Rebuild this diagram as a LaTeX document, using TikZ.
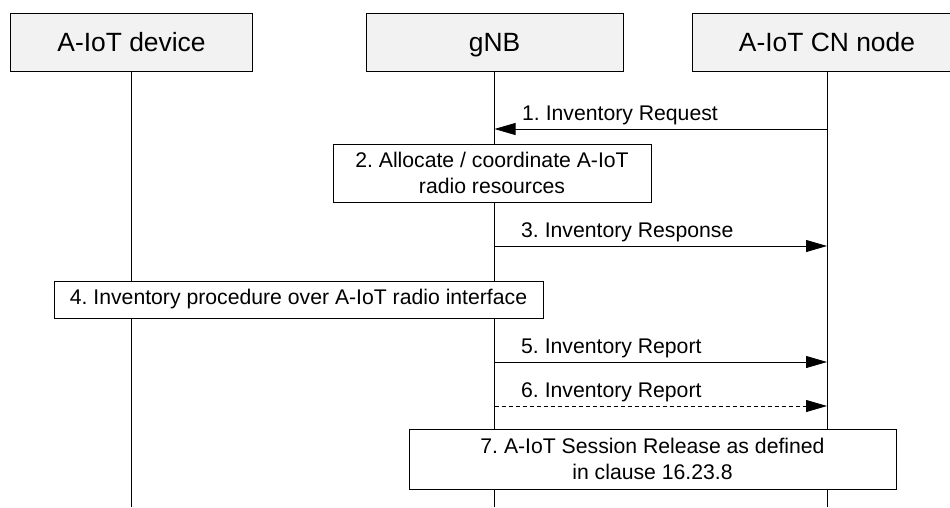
\documentclass[tikz,border=0pt]{standalone}
\usepackage{fontspec}
\setmainfont{Liberation Sans}
\usetikzlibrary{arrows.meta}
\definecolor{hdrfill}{HTML}{F2F2F2}
\frenchspacing
\begin{document}
\begin{tikzpicture}[x=1pt,y=1pt,
  hdr/.style={draw=black, fill=hdrfill, line width=0.9pt, inner sep=0pt,
    text height=19pt, text depth=0pt, font=\fontsize{26.4}{30}\selectfont},
  actbox/.style={draw=black, fill=white, line width=0.9pt, inner sep=0pt,
    align=center, font=\fontsize{21.2}{26}\selectfont},
  life/.style={draw=black, line width=0.8pt},
  msg/.style={draw=black, line width=0.8pt, -{Triangle[length=21pt,width=12pt]}},
  dmsg/.style={msg, dash pattern=on 4pt off 3pt},
  lbl/.style={anchor=base west, inner sep=0pt, font=\fontsize{21.2}{26}\selectfont}]
\useasboundingbox (0,0) rectangle (950,-507);

% headers
\node[hdr, minimum width=242.3pt, minimum height=58pt] (dev) at (131.5,-42) {A-IoT device};
\node[hdr, minimum width=257pt, minimum height=58pt] (gnb) at (494.5,-42) {gNB};
\node[hdr, minimum width=270pt, minimum height=58pt] (cn) at (827,-42) {A-IoT CN node};

% lifeline ends
\coordinate (devend) at (dev |- 0,-507);
\coordinate (gnbend) at (gnb |- 0,-507);
\coordinate (cnend) at (cn |- 0,-507);
\draw[life] (dev.south) -- (devend);
\draw[life] (gnb.south) -- (gnbend);
\draw[life] (cn.south) -- (cnend);

% message anchors
\coordinate (c1) at (cn |- 0,-129);
\coordinate (g1) at (gnb |- 0,-129);
\coordinate (g3) at (gnb |- 0,-246);
\coordinate (c3) at (cn |- 0,-246);
\coordinate (g5) at (gnb |- 0,-362);
\coordinate (c5) at (cn |- 0,-362);
\coordinate (g6) at (gnb |- 0,-406);
\coordinate (c6) at (cn |- 0,-406);

% 1
\draw[msg] (c1) -- (g1);
\node[lbl] (l1) at (522,-120.5) {1. Inventory Request};
% 2
\node[actbox, minimum width=318pt, minimum height=58pt] (b2) at (492,-173)
  {2. Allocate / coordinate A-IoT\\radio resources};
% 3
\draw[msg] (g3) -- (c3);
\node[lbl] (l3) at (521,-237.5) {3. Inventory Response};
% 4
\node[actbox, minimum width=489pt, minimum height=37pt] (b4) at (298.5,-299.5)
  {4. Inventory procedure over A-IoT radio interface};
% 5
\draw[msg] (g5) -- (c5);
\node[lbl] (l5) at (521,-353.5) {5. Inventory Report};
% 6
\draw[dmsg] (g6) -- (c6);
\node[lbl] (l6) at (521,-397.5) {6. Inventory Report};
% 7
\node[actbox, minimum width=487pt, minimum height=60pt] (b7) at (652.5,-459)
  {7. A-IoT Session Release as defined\\in clause 16.23.8};
\end{tikzpicture}
\end{document}
